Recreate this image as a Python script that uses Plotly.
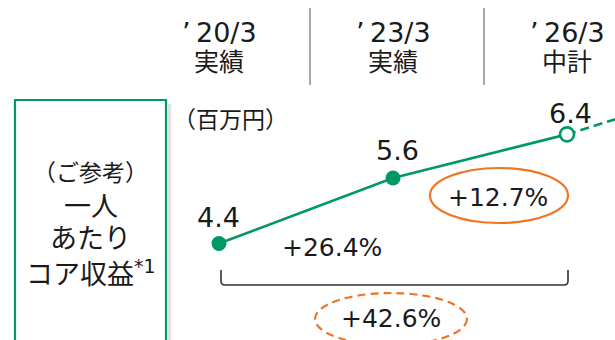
import plotly.graph_objects as go

# --- data -------------------------------------------------------------
periods = ["’\u200920/3", "’\u200923/3", "’\u200926/3"]
period_notes = ["実績", "実績", "中計"]
core_revenue = [4.4, 5.6, 6.4]          # 百万円 per person
next_target = 7.4                       # next plan point, line runs off the right edge
growth_labels = ["+26.4%", "+12.7%", "+42.6%"]

W, H = 615, 340
GREEN = "#009963"
ORANGE = "#EE7623"
INK = "#1A1A1A"
FONT = "DejaVu Sans, Noto Sans CJK JP"

xs = list(range(len(periods)))


def px(x):
    return x / W


def py(y):
    return 1 - y / H


def label(x, y, text, size, xref="paper", yref="paper", **kw):
    return dict(x=x, y=y, xref=xref, yref=yref, text=text, showarrow=False,
                xanchor="center", yanchor="middle",
                font=dict(size=size, color=INK, family=FONT), **kw)


fig = go.Figure()

# actual / plan line
fig.add_trace(go.Scatter(x=xs, y=core_revenue, mode="lines",
                         line=dict(color=GREEN, width=2.6), hoverinfo="skip"))
# dashed continuation beyond the plan year
fig.add_trace(go.Scatter(x=[xs[-1], xs[-1] + 1], y=[core_revenue[-1], next_target],
                         mode="lines", line=dict(color=GREEN, width=2.6, dash="9px,5px"),
                         hoverinfo="skip"))
# filled markers for actuals
fig.add_trace(go.Scatter(x=xs[:2], y=core_revenue[:2], mode="markers",
                         marker=dict(color=GREEN, size=15, line=dict(width=0)),
                         hoverinfo="skip"))
# open marker for the plan value
fig.add_trace(go.Scatter(x=xs[2:], y=core_revenue[2:], mode="markers",
                         marker=dict(color="white", size=14, line=dict(color=GREEN, width=2.6)),
                         hoverinfo="skip"))

ann = []
# value labels above each point
for x, v, dx, dy in zip(xs, core_revenue, [-1, 4, 3], [26, 28, 21]):
    ann.append(label(x, v, f"{v:.1f}", 27, xref="x", yref="y", xshift=dx, yshift=dy))

# period headers
for x, p, n in zip(xs, periods, period_notes):
    ann.append(label(x, py(32), p, 27, xref="x"))
    ann.append(label(x, py(62), n, 25, xref="x"))

# unit
ann.append(label(px(230), py(120), "（百万円）", 23))

# left caption box text
box_cx = px(90.5)
for text, y, size in [("（ご参考）", 173, 23), ("一人", 207, 27), ("あたり", 239, 27),
                      ("コア収益<sup>*1</sup>", 272, 27)]:
    ann.append(label(box_cx, py(y), text, size))

# growth rates
for text, (cx, cy) in zip(growth_labels, [(332, 247), (498, 197), (391, 318)]):
    ann.append(label(px(cx), py(cy), text, 25))

shapes = []
# header separators
for sx in [310, 484]:
    shapes.append(dict(type="line", xref="paper", yref="paper", x0=px(sx), x1=px(sx),
                       y0=py(8), y1=py(85), line=dict(color="#A8A8A8", width=2)))

# caption box with a soft shadow on the right
shapes.append(dict(type="rect", xref="paper", yref="paper", x0=px(168), x1=px(171),
                   y0=py(104), y1=py(360), line=dict(width=0), fillcolor="#E2E2E2"))
shapes.append(dict(type="rect", xref="paper", yref="paper", x0=px(15), x1=px(166),
                   y0=py(100), y1=py(360), line=dict(color=GREEN, width=2.2),
                   fillcolor="white"))

# bracket under the whole period
pts = [(221, 270), (221, 281), (221, 285), (225, 285), (564, 285), (568, 285),
       (568, 281), (568, 270)]
P = [f"{px(x):.5f},{py(y):.5f}" for x, y in pts]
path = f"M {P[0]} L {P[1]} Q {P[2]} {P[3]} L {P[4]} Q {P[5]} {P[6]} L {P[7]}"
shapes.append(dict(type="path", xref="paper", yref="paper", path=path,
                   line=dict(color="#333333", width=1.6)))

# highlight ellipses
shapes.append(dict(type="circle", xref="paper", yref="paper", x0=px(430), x1=px(568),
                   y0=py(168), y1=py(223), line=dict(color=ORANGE, width=2.2)))
shapes.append(dict(type="circle", xref="paper", yref="paper", x0=px(315), x1=px(467),
                   y0=py(293), y1=py(345), line=dict(color=ORANGE, width=2.2, dash="8px,5px")))

x_unit = 174.0
fig.update_layout(
    width=W, height=H,
    margin=dict(l=0, r=0, t=0, b=0),
    paper_bgcolor="white", plot_bgcolor="white",
    showlegend=False,
    xaxis=dict(range=[-219 / x_unit, (W - 219) / x_unit], visible=False, fixedrange=True),
    yaxis=dict(range=[2.634, 8.861], visible=False, fixedrange=True),
    annotations=ann,
    shapes=shapes,
    font=dict(family=FONT, color=INK),
)

fig.write_html("out.html", config={"displayModeBar": False})
